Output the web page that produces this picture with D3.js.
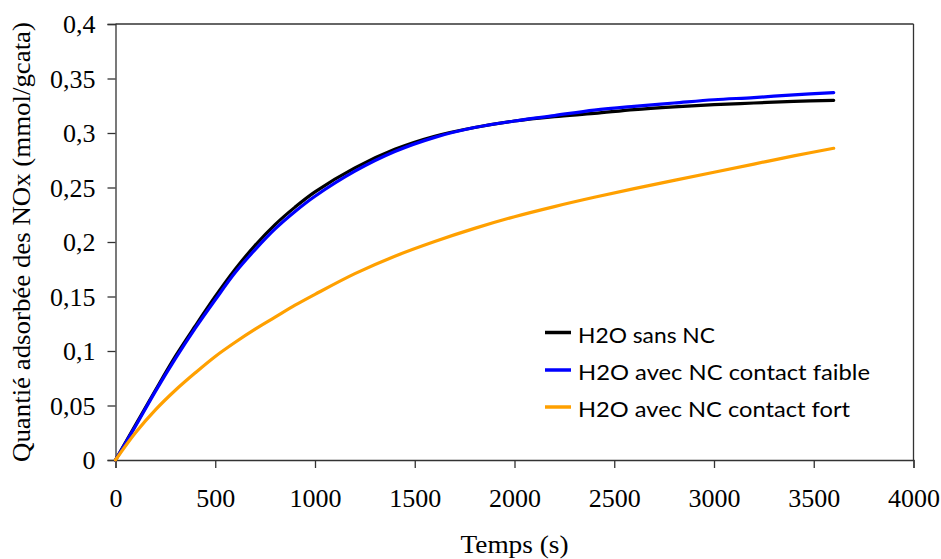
<!DOCTYPE html>
<html>
<head>
<meta charset="utf-8">
<script src="https://cdn.jsdelivr.net/npm/d3@7"></script>
<style>
  html, body { margin: 0; padding: 0; background: #fff; }
  svg { display: block; }
</style>
</head>
<body>
<svg id="chart" width="941" height="559"></svg>
<script>
// ---- data ----
const xTicks = [0, 500, 1000, 1500, 2000, 2500, 3000, 3500, 4000];
const yTicks = [0, 0.05, 0.1, 0.15, 0.2, 0.25, 0.3, 0.35, 0.4];
const yTickLabels = ["0", "0,05", "0,1", "0,15", "0,2", "0,25", "0,3", "0,35", "0,4"];

const time = [0, 100, 200, 300, 400, 500, 600, 700, 800, 900, 1000,
              1200, 1400, 1600, 1800, 2000, 2200, 2400, 2600, 2800, 3000, 3200, 3400, 3600];
const sansNC =        [0, 0.032, 0.064, 0.095, 0.123, 0.150, 0.175, 0.197, 0.216, 0.232, 0.246,
                       0.268, 0.285, 0.297, 0.305, 0.311, 0.315, 0.318, 0.3215, 0.324, 0.326, 0.3275, 0.329, 0.330];
const contactFaible = [0, 0.031, 0.063, 0.093, 0.121, 0.147, 0.172, 0.193, 0.212, 0.228, 0.242,
                       0.265, 0.283, 0.296, 0.305, 0.311, 0.316, 0.321, 0.3245, 0.3275, 0.3305, 0.3325, 0.335, 0.337];
const contactFort =   [0, 0.025, 0.046, 0.064, 0.080, 0.095, 0.108, 0.120, 0.131, 0.142, 0.152,
                       0.171, 0.187, 0.2005, 0.2125, 0.2232, 0.2325, 0.241, 0.249, 0.2565, 0.264, 0.2715, 0.279, 0.286];

const seriesNames = ["H2O sans NC", "H2O avec NC contact faible", "H2O avec NC contact fort"];
const seriesColors = ["#000000", "#0000ff", "#ffa000"];
const seriesValues = [sansNC, contactFaible, contactFort];

const xTitle = "Temps (s)";
const yTitle = "Quantié adsorbée des NOx (mmol/gcata)";

// ---- layout ----
const svg = d3.select("#chart");
const mLeft = 115.5, mRight = 913.5, mTop = 24, mBottom = 460;
const x = d3.scaleLinear().domain([0, 4000]).range([mLeft, mRight]);
const y = d3.scaleLinear().domain([0, 0.4]).range([mBottom, mTop]);
const axisColor = "#333";
const serif = "'Liberation Serif', 'Times New Roman', serif";

// frame (top and right)
svg.append("line").attr("x1", mLeft).attr("x2", mRight).attr("y1", mTop).attr("y2", mTop)
  .attr("stroke", axisColor).attr("stroke-width", 1.3);
svg.append("line").attr("x1", mRight).attr("x2", mRight).attr("y1", mTop).attr("y2", mBottom)
  .attr("stroke", axisColor).attr("stroke-width", 1.3);

// y axis
const yAxis = svg.append("g").attr("transform", `translate(${mLeft},0)`)
  .call(d3.axisLeft(y).tickValues(yTicks).tickSize(8).tickPadding(12)
    .tickFormat((d, i) => yTickLabels[i]));
// x axis
const xAxis = svg.append("g").attr("transform", `translate(0,${mBottom})`)
  .call(d3.axisBottom(x).tickValues(xTicks).tickSize(8).tickPadding(21)
    .tickFormat(d3.format("d")));

[yAxis, xAxis].forEach(g => {
  g.select(".domain").attr("stroke", axisColor).attr("stroke-width", 1.3);
  g.selectAll(".tick line").attr("stroke", axisColor).attr("stroke-width", 1.3);
  g.selectAll(".tick text").attr("font-family", serif).attr("font-size", 26).attr("fill", "#000");
});
yAxis.selectAll(".tick text").attr("dy", "0.33em").attr("x", -20);

// axis titles
svg.append("text").attr("x", (mLeft + mRight) / 2).attr("y", 553)
  .attr("text-anchor", "middle").attr("font-family", serif).attr("font-size", 25)
  .attr("textLength", 108).attr("lengthAdjust", "spacingAndGlyphs")
  .text(xTitle);
svg.append("text").attr("transform", `translate(30,${(mTop + mBottom) / 2}) rotate(-90)`)
  .attr("text-anchor", "middle").attr("font-family", serif).attr("font-size", 25)
  .attr("textLength", 440).attr("lengthAdjust", "spacingAndGlyphs")
  .text(yTitle);

// lines
const line = d3.line().x((d, i) => x(time[i])).y(d => y(d)).curve(d3.curveCatmullRom.alpha(0.5));
seriesValues.forEach((vals, k) => {
  svg.append("path").datum(vals).attr("d", line)
    .attr("fill", "none").attr("stroke", seriesColors[k]).attr("stroke-width", 3.2)
    .attr("stroke-linecap", "round").attr("stroke-linejoin", "round");
});

// legend
const legendY = [332.5, 370, 407];
const legendW = [137, 292, 272];
const leg = svg.append("g");
seriesNames.forEach((name, k) => {
  leg.append("line").attr("x1", 545).attr("x2", 571).attr("y1", legendY[k]).attr("y2", legendY[k])
    .attr("stroke", seriesColors[k]).attr("stroke-width", 3.5);
  leg.append("text").attr("x", 578).attr("y", legendY[k] + 10)
    .attr("font-family", "Lato, 'Open Sans', sans-serif").attr("font-size", 22)
    .attr("fill", "#000")
    .attr("textLength", legendW[k]).attr("lengthAdjust", "spacingAndGlyphs")
    .text(name);
});
</script>
</body>
</html>
